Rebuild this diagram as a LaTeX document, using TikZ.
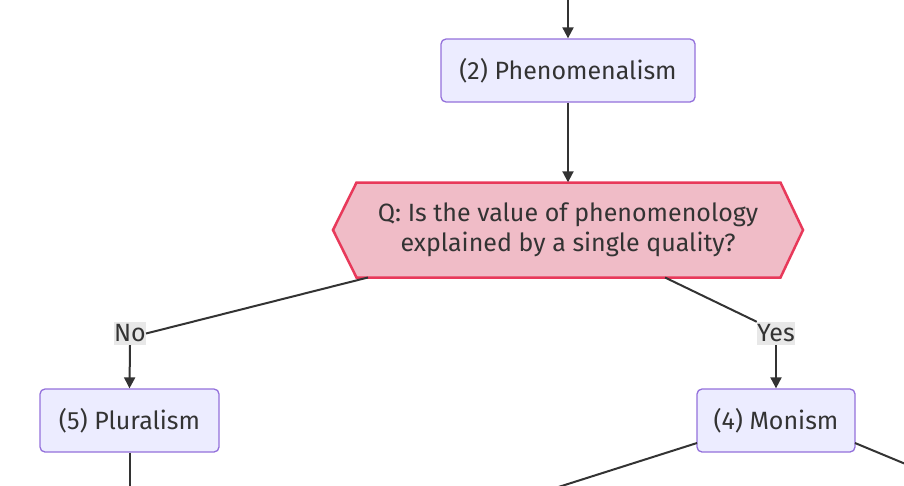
\documentclass[tikz,border=0pt]{standalone}
\usepackage{fontspec}
\setmainfont{Fira Sans}
\usetikzlibrary{calc,arrows.meta}
\definecolor{boxfill}{HTML}{ECECFF}
\definecolor{boxline}{HTML}{9370DB}
\definecolor{qfill}{HTML}{F0BCC7}
\definecolor{qline}{HTML}{E8395A}
\definecolor{edgecol}{HTML}{333333}
\definecolor{lblbg}{HTML}{E8E8E8}
\definecolor{txt}{HTML}{333333}
\begin{document}
\begin{tikzpicture}[x=1pt,y=1pt,
 box/.style={draw=boxline, fill=boxfill, line width=1.3pt, rounded corners=5pt, inner sep=0pt, font=\fontsize{25}{30}\selectfont, text=txt},
 conn/.style={draw=edgecol, line width=2pt, -{Triangle[length=11pt,width=11pt]}},
 plainedge/.style={draw=edgecol, line width=2pt},
 lbl/.style={fill=lblbg, inner sep=0pt, font=\fontsize{25}{30}\selectfont, text=txt, minimum height=23}]
\useasboundingbox (0,0) rectangle (904,-485);
% hexagon
\coordinate (h1) at (356.5,-182.5);
\coordinate (h2) at (780.5,-182.5);
\coordinate (h3) at (803,-230);
\coordinate (h4) at (780.5,-277.5);
\coordinate (h5) at (356.5,-277.5);
\coordinate (h6) at (333,-230);
\draw[draw=qline, fill=qfill, line width=2.5pt] (h1) -- (h2) -- (h3) -- (h4) -- (h5) -- (h6) -- cycle;
\node[inner sep=0pt, minimum width=470, minimum height=95, align=center, font=\fontsize{25}{30}\selectfont, text=txt] (q) at (568,-230) {Q: Is the value of phenomenology\\explained by a single quality?};
\node[box, minimum width=254, minimum height=63] (p2) at (568,-70.5) {(2) Phenomenalism};
\node[box, minimum width=179, minimum height=63] (p5) at (129.5,-420.5) {(5) Pluralism};
\node[box, minimum width=158, minimum height=63] (p4) at (776,-420.5) {(4) Monism};
\node[lbl, minimum width=30] (no) at (130,-333.5) {No};
\node[lbl, minimum width=38] (yes) at (776,-333.5) {Yes};
\coordinate (top) at (568,0);
\coordinate (qno) at (368,-277.5);
\coordinate (qyes) at (665,-277.5);
\coordinate (out5) at (129.5,-490);
\coordinate (out4a) at (549,-490);
\coordinate (out4b) at (920,-470);
\coordinate (p4a) at (697,-443);
\coordinate (p4b) at (855,-443);
\draw[conn] (top) -- (p2.north);
\draw[conn] (p2.south) -- (q.north);
\draw[plainedge] (qno) -- (no.east);
\draw[conn] (no.south) -- (p5.north);
\draw[plainedge] (qyes) -- (yes.north west);
\draw[conn] (yes.south) -- (p4.north);
\draw[plainedge] (p5.south) -- (out5);
\draw[plainedge] (p4a) -- (out4a);
\draw[plainedge] (p4b) -- (out4b);
\end{tikzpicture}
\end{document}
